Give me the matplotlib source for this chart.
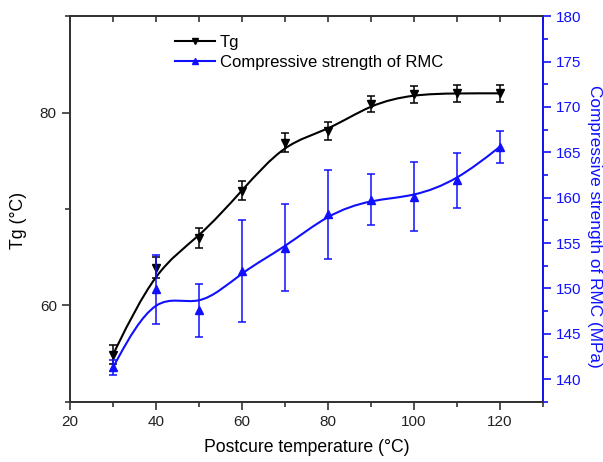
import numpy as np
from matplotlib import pyplot as plt
from matplotlib.path import Path
from matplotlib.patches import PathPatch
from matplotlib.lines import Line2D
from matplotlib.ticker import MultipleLocator

plt.rcParams['font.family'] = ['Liberation Sans', 'DejaVu Sans']

# data
temperature = [30, 40, 50, 60, 70, 80, 90, 100, 110, 120]
tg = [54.9, 63.9, 67.0, 71.9, 76.9, 78.1, 80.9, 81.9, 82.0, 82.0]
tg_err = [1.0, 1.1, 1.0, 1.0, 1.0, 0.9, 0.8, 0.9, 0.9, 0.9]
strength = [141.3, 149.9, 147.6, 151.9, 154.5, 158.2, 159.8, 160.1, 161.9, 165.6]
strength_err = [0.8, 3.8, 2.9, 5.6, 4.8, 4.9, 2.8, 3.8, 3.0, 1.8]

BLUE = '#1010ff'
DARK = '#333333'


def bspline_path(xs, ys):
    # uniform cubic B-spline with the points as control points (ends tripled
    # so the curve starts and stops on the first/last point), as bezier pieces
    pts = np.column_stack([xs, ys]).astype(float)
    ctrl = np.vstack([pts[0], pts[0], pts, pts[-1], pts[-1]])
    verts = [pts[0]]
    codes = [Path.MOVETO]
    for i in range(len(ctrl) - 3):
        b0, b1, b2, b3 = ctrl[i:i + 4]
        verts += [(4 * b1 + 2 * b2) / 6, (2 * b1 + 4 * b2) / 6, (b1 + 4 * b2 + b3) / 6]
        codes += [Path.CURVE4] * 3
    return Path(verts, codes)


fig = plt.figure(figsize=(6.03, 4.62), dpi=100)
ax = fig.add_axes([0.116, 0.130, 0.784, 0.835])
ax2 = ax.twinx()

# Tg (left axis)
ax.add_patch(PathPatch(bspline_path(temperature, tg), fill=False, edgecolor='black', lw=1.5))
ax.errorbar(temperature, tg, yerr=tg_err, fmt='v', color='black', ms=5.5,
            capsize=3, elinewidth=1.1, capthick=1.1)

# compressive strength (right axis)
ax2.add_patch(PathPatch(bspline_path(temperature, strength), fill=False, edgecolor=BLUE, lw=1.5))
ax2.errorbar(temperature, strength, yerr=strength_err, fmt='^', color=BLUE, ms=5.5,
             capsize=3, elinewidth=1.1, capthick=1.1)

ax.set_xlim(20, 130)
ax.set_ylim(50, 90)
ax2.set_ylim(137.5, 180)

ax.xaxis.set_major_locator(MultipleLocator(20))
ax.xaxis.set_minor_locator(MultipleLocator(10))
ax.yaxis.set_major_locator(MultipleLocator(20))
ax.yaxis.set_minor_locator(MultipleLocator(10))
ax2.yaxis.set_major_locator(MultipleLocator(5))
ax2.yaxis.set_minor_locator(MultipleLocator(2.5))

for a in (ax, ax2):
    for s in a.spines.values():
        s.set_linewidth(1.3)
        s.set_color(DARK)

ax.tick_params(axis='both', which='major', direction='out', length=6, width=1.2,
               labelsize=11, color=DARK, labelcolor='#222222')
ax.tick_params(axis='both', which='minor', direction='out', length=3.5, width=1.2, color=DARK)

top = ax.secondary_xaxis('top')
top.xaxis.set_major_locator(MultipleLocator(20))
top.xaxis.set_minor_locator(MultipleLocator(10))
top.tick_params(which='both', direction='in', labeltop=False, length=4, width=1.2, color=DARK)
top.spines['top'].set_linewidth(1.3)
top.spines['top'].set_color(DARK)

ax2.spines['right'].set_color(BLUE)
ax2.tick_params(axis='y', which='major', direction='out', length=6, width=1.2,
                colors=BLUE, labelsize=11)
ax2.tick_params(axis='y', which='minor', direction='out', length=3.5, width=1.2, colors=BLUE)

ax.set_xlabel('Postcure temperature (\u00b0C)', fontsize=12.7, labelpad=7)
ax.set_ylabel('Tg (\u00b0C)', fontsize=12.7)
ax.yaxis.set_label_coords(-0.09, 0.47)
ax2.set_ylabel('Compressive strength of RMC (MPa)', fontsize=12.4, color=BLUE,
               rotation=270)
ax2.yaxis.set_label_coords(1.125, 0.455)

handles = [
    Line2D([], [], color='black', marker='v', ms=5, lw=1.5),
    Line2D([], [], color=BLUE, marker='^', ms=5, lw=1.5),
]
ax2.legend(handles, ['Tg', 'Compressive strength of RMC'], loc='upper left',
           bbox_to_anchor=(0.19, 0.99), frameon=False, fontsize=12,
           handlelength=2.4, handletextpad=0.3, labelspacing=0.3)

fig.savefig('out.png', dpi=100)
